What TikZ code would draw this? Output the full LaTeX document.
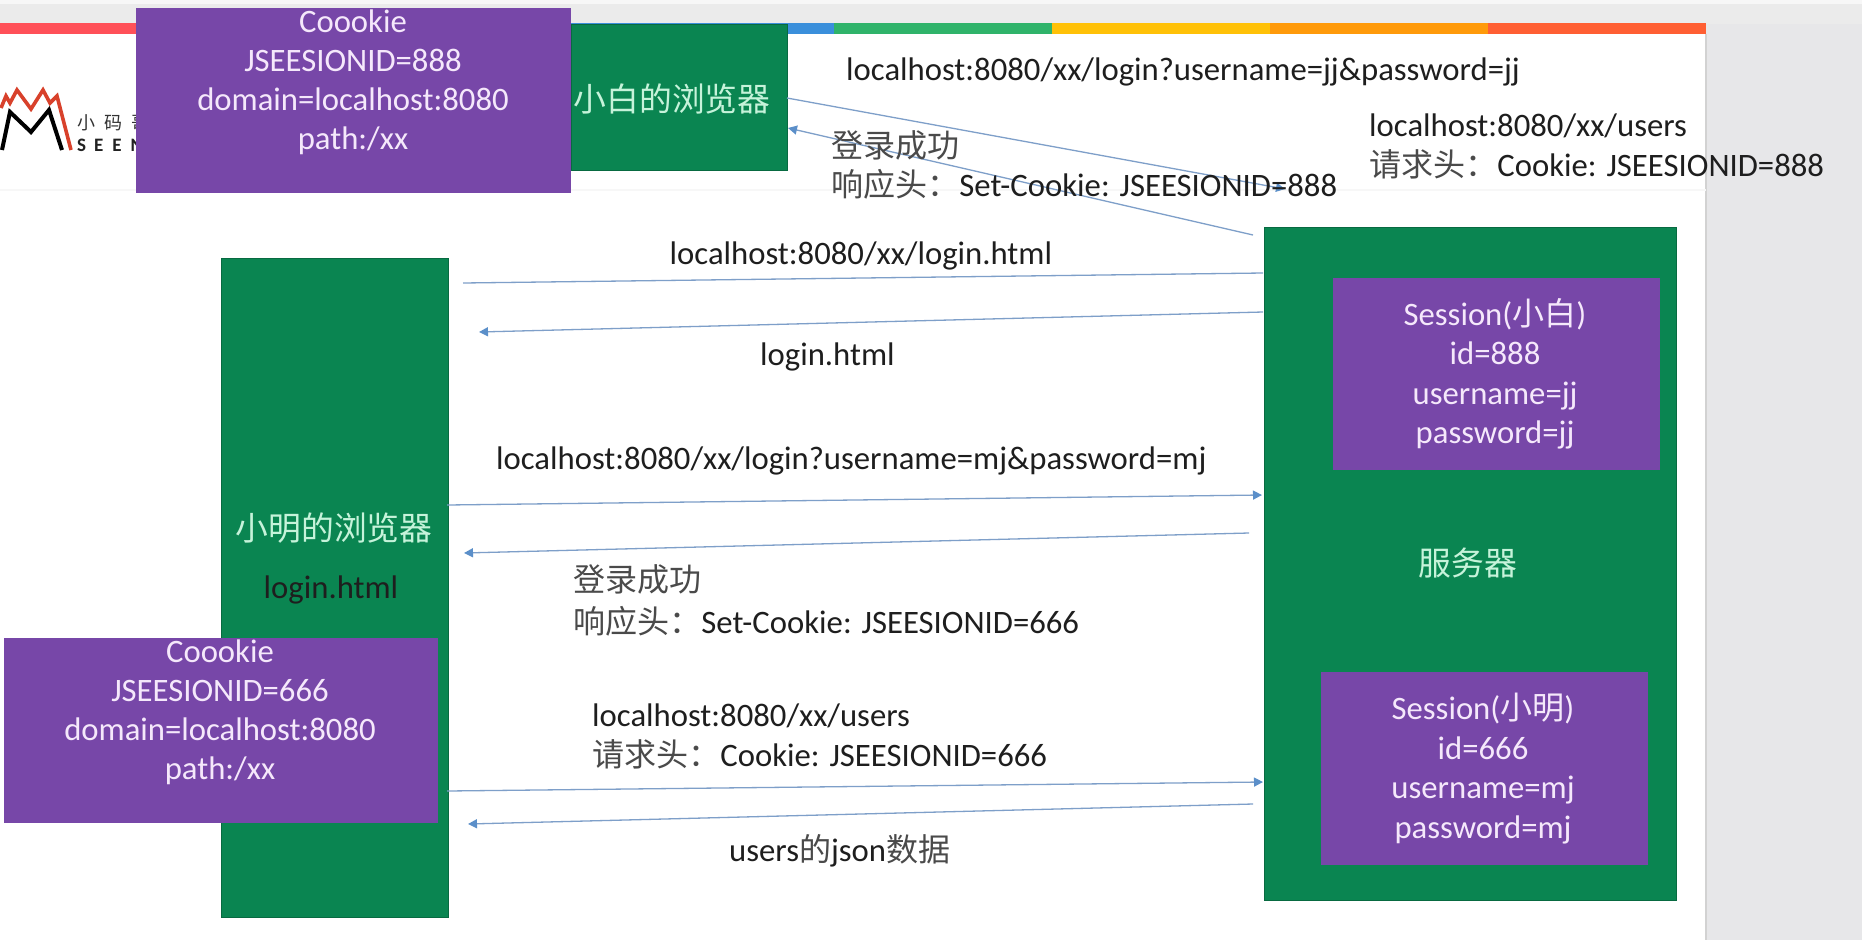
\documentclass[tikz,border=0pt]{standalone}
\usepackage{fontspec}
\usetikzlibrary{arrows.meta}
\setmainfont{Carlito}
\newfontfamily\cjk[Scale=0.98]{Noto Sans CJK SC}
\newfontfamily\logocjk{Noto Sans CJK SC}
\newcommand{\zh}[1]{{\cjk #1}}
\definecolor{slidegrey}{HTML}{E7E7E9}
\definecolor{topgrey}{HTML}{EBEBEB}
\definecolor{boxgreen}{HTML}{0A8551}
\definecolor{boxpurple}{HTML}{7747A8}
\definecolor{paletext}{HTML}{F5E8FB}
\definecolor{greentext}{HTML}{C6F3DA}
\definecolor{ink}{HTML}{1E1E1E}
\definecolor{zhink}{HTML}{4A4A4A}
\definecolor{linkblue}{HTML}{7E9FC9}
\definecolor{tipblue}{HTML}{5B8FC9}
\definecolor{barred}{HTML}{FF5058}
\definecolor{barblue}{HTML}{3A8FDB}
\definecolor{bargreen}{HTML}{2FB36A}
\definecolor{baryellow}{HTML}{FFC107}
\definecolor{barorange}{HTML}{FF9A0A}
\definecolor{barflame}{HTML}{FF5F33}
\definecolor{logored}{HTML}{D8412B}
\definecolor{logozhc}{HTML}{333333}
\definecolor{logoenc}{HTML}{222222}
\tikzset{
  greenbox/.style={draw=boxgreen!80!black,line width=0.5pt,fill=boxgreen,inner sep=0pt,anchor=north west},
  purplebox/.style={fill=boxpurple,inner sep=0pt,anchor=north west},
  plines/.style={inner sep=0pt,align=center,text=paletext,font=\fontsize{32.7}{39}\selectfont},
  slines/.style={inner sep=0pt,align=center,text=paletext,font=\fontsize{32.7}{39.5}\selectfont},
  gtitle/.style={inner sep=0pt,text=greentext,font=\fontsize{33.5}{36}\selectfont},
  lbl/.style={inner sep=0pt,anchor=base west,text=ink,font=\fontsize{32.7}{36}\selectfont},
  msg/.style={draw=linkblue,line width=1.3pt},
  msgtip/.style={msg,-{Triangle[length=9pt,width=9pt,color=tipblue]}},
}
\begin{document}
\begin{tikzpicture}[x=1pt,y=-1pt]
\path[use as bounding box] (0,0) rectangle (1862,940);
% slide background
\fill[white] (0,0) rectangle (1862,940);
\fill[black!3] (0,0) rectangle (1862,4);
\fill[topgrey] (0,4) rectangle (1862,24);
\fill[slidegrey] (1706,24) rectangle (1862,940);
\fill[gray!35] (1705,34) rectangle (1706.5,940);
% colour bar
\fill[barred] (0,23) rectangle (398,34);
\fill[barblue] (398,23) rectangle (834,34);
\fill[bargreen] (834,23) rectangle (1052,34);
\fill[baryellow] (1052,23) rectangle (1270,34);
\fill[barorange] (1270,23) rectangle (1488,34);
\fill[barflame] (1488,23) rectangle (1706,34);
\fill[black!3] (0,189) rectangle (1706,191);
% logo
\draw[line width=3.6pt,color=logored] (1,108) -- (6,96) -- (10,103) -- (17,90) -- (31,109) -- (43,90) -- (50,103) -- (57,96) -- (71,150);
\draw[line width=4pt,color=black] (2,150) -- (10,112) -- (31,132) -- (49,110) -- (62,150);
\node[inner sep=0pt,anchor=base west,text=logozhc,font=\logocjk\fontsize{18}{18}\selectfont] (logozh) at (77,129) {小\hspace{9pt}码\hspace{9pt}哥};
\node[inner sep=0pt,anchor=base west,text=logoenc,font=\bfseries\fontsize{19}{18}\selectfont] (logoen) at (77,151) {S\hspace{8pt}E\hspace{9pt}E\hspace{9pt}N};
% boxes
\node[greenbox,minimum width=215.5pt,minimum height=146pt] (white) at (571,24) {};
\node[purplebox,minimum width=435pt,minimum height=185pt] (ccbig) at (136,8) {};
\node[greenbox,minimum width=226.5pt,minimum height=659pt] (ming) at (221,258) {};
\node[purplebox,minimum width=434pt,minimum height=185pt] (ccmj) at (4,638) {};
\node[greenbox,minimum width=412.5pt,minimum height=673pt] (server) at (1263.5,227) {};
\node[purplebox,minimum width=327pt,minimum height=192pt] (sess1) at (1333,278) {};
\node[purplebox,minimum width=327pt,minimum height=193pt] (sess2) at (1321,672) {};
% box texts
\node[plines] (cctext1) at (353,82.5) {Coookie\\JSEESIONID=888\\domain=localhost:8080\\path:/xx};
\node[plines] (cctext2) at (220,712.5) {Coookie\\JSEESIONID=666\\domain=localhost:8080\\path:/xx};
\node[slines] (stext1) at (1495,374) {Session(\zh{小白})\\id=888\\username=jj\\password=jj};
\node[slines] (stext2) at (1483,768.5) {Session(\zh{小明})\\id=666\\username=mj\\password=mj};
\node[gtitle] (tw) at (672,99) {\zh{小白的浏览器}};
\node[gtitle] (tm) at (334,528) {\zh{小明的浏览器}};
\node[gtitle] (ts) at (1468,563) {\zh{服务器}};
\node[lbl,anchor=base] (tl) at (331,598) {login.html};
% coordinates
\coordinate (a1) at (787,98);   \coordinate (a2) at (1285,189);
\coordinate (b1) at (1253,235); \coordinate (b2) at (788,128);
\coordinate (c1) at (463,283);  \coordinate (c2) at (1263,273);
\coordinate (d1) at (1263,312); \coordinate (d2) at (479,332);
\coordinate (e1) at (447,505);  \coordinate (e2) at (1262,495);
\coordinate (f1) at (1249,533); \coordinate (f2) at (464,553);
\coordinate (g1) at (447,791);  \coordinate (g2) at (1263,782);
\coordinate (h1) at (1253,804); \coordinate (h2) at (468,824);
% connectors
\draw[msgtip] (a1) -- (a2);
\draw[msgtip] (b1) -- (b2);
\draw[msg] (c1) -- (c2);
\draw[msgtip] (d1) -- (d2);
\draw[msgtip] (e1) -- (e2);
\draw[msgtip] (f1) -- (f2);
\draw[msgtip] (g1) -- (g2);
\draw[msgtip] (h1) -- (h2);
% labels
\node[lbl] (l1) at (846,80) {localhost:8080/xx/login?username=jj\&password=jj};
\node[lbl] (l2) at (1369,136) {localhost:8080/xx/users};
\node[lbl] (l3) at (1369,176) {\textcolor{zhink}{\zh{请求头：}}Cookie: JSEESIONID=888};
\node[lbl] (l4) at (831,157) {\textcolor{zhink}{\zh{登录成功}}};
\node[lbl] (l5) at (831,196) {\textcolor{zhink}{\zh{响应头：}}Set-Cookie: JSEESIONID=888};
\node[lbl] (l6) at (669.5,264) {localhost:8080/xx/login.html};
\node[lbl] (l7) at (760,365) {login.html};
\node[lbl] (l8) at (496,469) {localhost:8080/xx/login?username=mj\&password=mj};
\node[lbl] (l9) at (573,591) {\textcolor{zhink}{\zh{登录成功}}};
\node[lbl] (l10) at (573,633) {\textcolor{zhink}{\zh{响应头：}}Set-Cookie: JSEESIONID=666};
\node[lbl] (l11) at (592,726) {localhost:8080/xx/users};
\node[lbl] (l12) at (592,766) {\textcolor{zhink}{\zh{请求头：}}Cookie: JSEESIONID=666};
\node[lbl] (l13) at (729,861) {users\textcolor{zhink}{\zh{的}}json\textcolor{zhink}{\zh{数据}}};
\end{tikzpicture}
\end{document}
